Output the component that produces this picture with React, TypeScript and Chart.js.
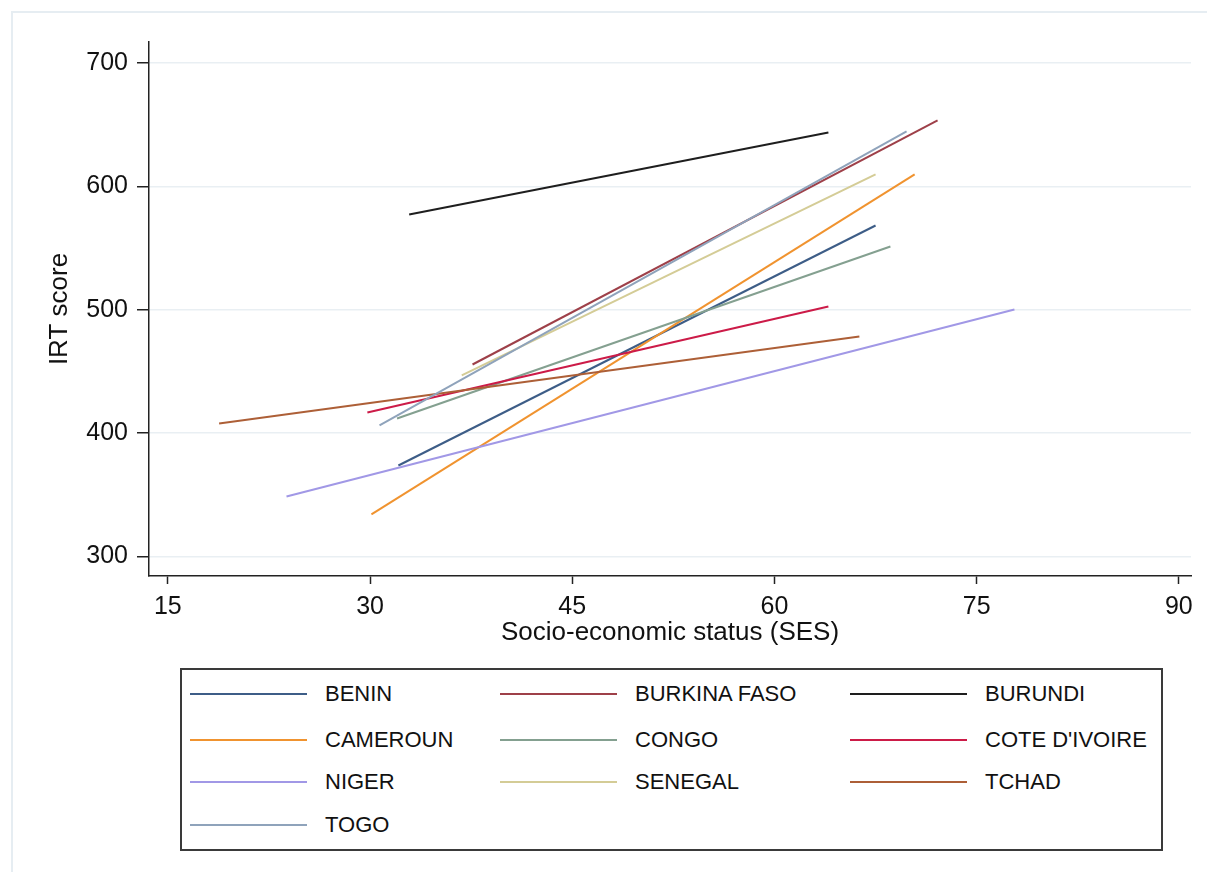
import React, { useEffect, useRef } from "react";
import { Chart, registerables } from "chart.js";

Chart.register(...registerables);

const countries = ["BENIN", "BURKINA FASO", "BURUNDI", "CAMEROUN", "CONGO", "COTE D'IVOIRE", "NIGER", "SENEGAL", "TCHAD", "TOGO"];
const sesStart = [32.1, 37.6, 32.9, 30.1, 32.0, 29.8, 23.8, 36.8, 18.8, 30.7];
const sesEnd = [67.5, 72.1, 64.0, 70.4, 68.6, 64.0, 77.8, 67.5, 66.3, 69.8];
const irtStart = [373.6, 455.5, 577.2, 333.9, 411.7, 416.6, 348.5, 446.6, 407.7, 406.1];
const irtEnd = [568.2, 653.4, 643.6, 609.6, 551.2, 502.6, 500.1, 609.6, 478.2, 644.5];
const xTicks = [15, 30, 45, 60, 75, 90];
const yTicks = [300, 400, 500, 600, 700];

const colors = ["#3d5d87", "#9e4049", "#1e1e1e", "#f0932f", "#84a090", "#cc1b48", "#a198e6", "#d4cc96", "#ad5f37", "#8fa3bb"];

const FONT = "'Liberation Sans', Arial, Helvetica, sans-serif";

export default function App() {
  const ref = useRef<HTMLCanvasElement | null>(null);

  useEffect(() => {
    if (!ref.current) return;
    const n = countries.length;
    const chart = new Chart(ref.current, {
      type: "line",
      data: {
        datasets: countries.map((c, i) => ({
          label: c,
          data: [
            { x: sesStart[i], y: irtStart[i] },
            { x: sesEnd[i], y: irtEnd[i] },
          ],
          borderColor: colors[i],
          backgroundColor: colors[i],
          borderWidth: 2,
          pointRadius: 0,
          fill: false,
          tension: 0,
          order: n - i,
        })),
      },
      options: {
        animation: false,
        responsive: false,
        maintainAspectRatio: false,
        layout: { padding: { top: 42, right: 16, left: 0, bottom: 0 } },
        plugins: { legend: { display: false }, tooltip: { enabled: false } },
        scales: {
          x: {
            type: "linear",
            min: 13.6,
            max: 90.9,
            afterBuildTicks: (s: any) => {
              s.ticks = xTicks.map((v) => ({ value: v }));
            },
            afterFit: (s: any) => {
              s.height = 70;
            },
            grid: {
              display: true,
              drawOnChartArea: false,
              drawTicks: true,
              tickLength: 8,
              tickColor: "#222",
              tickWidth: 1.5,
            },
            border: { display: true, color: "#222", width: 1.5 },
            ticks: {
              padding: 8,
              color: "#111",
              font: { family: FONT, size: 25 },
              maxRotation: 0,
              autoSkip: false,
            },
            title: {
              display: true,
              text: "Socio-economic status (SES)",
              color: "#111",
              font: { family: FONT, size: 26, lineHeight: 1 },
              padding: { top: 0, bottom: 0 },
            },
          },
          y: {
            type: "linear",
            min: 284,
            max: 717,
            afterBuildTicks: (s: any) => {
              s.ticks = yTicks.map((v) => ({ value: v }));
            },
            afterFit: (s: any) => {
              s.width = 149;
            },
            grid: {
              display: true,
              drawOnChartArea: true,
              color: "#e9eff3",
              lineWidth: 1.5,
              drawTicks: true,
              tickLength: 12,
              tickColor: "#222",
              tickWidth: 1.5,
            },
            border: { display: true, color: "#222", width: 1.5 },
            ticks: {
              padding: 9,
              color: "#111",
              font: { family: FONT, size: 25 },
              autoSkip: false,
            },
            title: {
              display: true,
              text: "IRT score",
              color: "#111",
              font: { family: FONT, size: 26, lineHeight: 1 },
              padding: { top: 47, bottom: 0 },
            },
          },
        },
      },
    });
    return () => chart.destroy();
  }, []);

  const colLeft = [10, 320, 670];
  const rowCenter = [26, 72, 114, 157];

  return (
    <div style={{ position: "fixed", left: 0, top: 0, width: 1207, height: 872, background: "#fff", overflow: "hidden" }}>
      <div
        style={{
          position: "absolute",
          left: 11,
          top: 11,
          right: -10,
          bottom: -10,
          borderLeft: "2px solid #e6edf2",
          borderTop: "2px solid #e6edf2",
        }}
      />
      <canvas ref={ref} width={1207} height={646} style={{ position: "absolute", left: 0, top: 0, width: 1207, height: 646 }} />
      <div
        style={{
          position: "absolute",
          left: 180,
          top: 668,
          width: 983,
          height: 183,
          boxSizing: "border-box",
          border: "2px solid #3a3a3a",
          background: "#fff",
        }}
      >
        {countries.map((c, i) => {
          const col = i % 3;
          const row = Math.floor(i / 3);
          const cy = rowCenter[row] - 2;
          const lx = colLeft[col] - 2;
          return (
            <React.Fragment key={c}>
              <div
                style={{
                  position: "absolute",
                  left: lx,
                  top: cy - 1,
                  width: 117,
                  height: 2,
                  background: colors[i],
                }}
              />
              <div
                style={{
                  position: "absolute",
                  left: lx + 135,
                  top: cy - 13,
                  height: 26,
                  lineHeight: "26px",
                  fontFamily: FONT,
                  fontSize: 22,
                  color: "#111",
                  whiteSpace: "nowrap",
                }}
              >
                {c}
              </div>
            </React.Fragment>
          );
        })}
      </div>
    </div>
  );
}
